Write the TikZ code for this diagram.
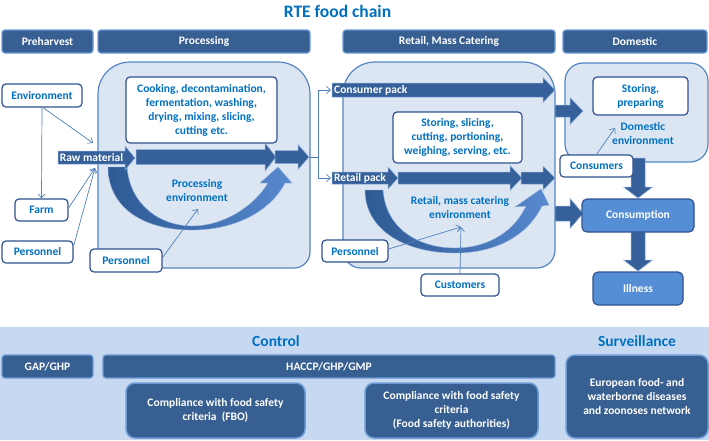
\documentclass[tikz,border=0pt]{standalone}
\usepackage{fontspec}
\setmainfont{Carlito}
\usetikzlibrary{arrows.meta}
\definecolor{hdr}{HTML}{375F92}
\definecolor{hdredge}{HTML}{6C9BD6}
\definecolor{cont}{HTML}{DCE6F2}
\definecolor{contedge}{HTML}{5585C5}
\definecolor{txtblue}{HTML}{0070C0}
\definecolor{boxedge}{HTML}{2F528F}
\definecolor{thinline}{HTML}{4F81BD}
\definecolor{blk}{HTML}{35609A}
\definecolor{blkedge}{HTML}{8CAEDB}
\definecolor{consfill}{HTML}{558ED5}
\definecolor{band}{HTML}{C6D9F1}
\definecolor{crescL}{HTML}{2E5A94}
\definecolor{crescM}{HTML}{3764A0}
\definecolor{crescR}{HTML}{5889CF}
\newcommand\blkH[6]{\path[blockfill] (#1,#4-#5) -- (#2,#4-#5) -- (#2,#4-#6) -- (#3,#4) -- (#2,#4+#6) -- (#2,#4+#5) -- (#1,#4+#5) -- cycle;}
\newcommand\blkV[6]{\path[blockfill] (#4-#5,#1) -- (#4-#5,#2) -- (#4-#6,#2) -- (#4,#3) -- (#4+#6,#2) -- (#4+#5,#2) -- (#4+#5,#1) -- cycle;}
\begin{document}
\begin{tikzpicture}[x=1pt,y=-1pt,
  font=\bfseries\fontsize{11.5}{14}\selectfont,
  hdrbar/.style={draw=hdredge, line width=1.2pt, fill=hdr, rounded corners=3pt, text=white, inner sep=0pt, minimum height=23pt},
  container/.style={draw=contedge, line width=1.2pt, fill=cont},
  wbox/.style={draw=boxedge, line width=1.2pt, fill=white, rounded corners=4pt, text=txtblue, align=center, inner sep=0pt},
  endbox/.style={draw=boxedge, line width=1.2pt, fill=consfill, rounded corners=5pt, text=white, inner sep=0pt},
  ctrlbox/.style={draw=hdredge, line width=1.5pt, fill=hdr, rounded corners=9pt, text=white, align=center, inner sep=0pt},
  envtext/.style={text=txtblue, align=center, inner sep=0pt},
  thinarrow/.style={draw=thinline, line width=0.7pt, -{Straight Barb[length=4pt,width=7pt]}},
  thinplain/.style={draw=thinline, line width=0.7pt},
  blockfill/.style={fill=blk, draw=blkedge, line width=0.5pt},
  packlabel/.style={text=white, inner sep=0pt},
  crescent/.style={left color=crescL, middle color=crescM, right color=crescR, draw=blkedge, line width=0.4pt}
]
\useasboundingbox (0,0) rectangle (709,440);
\fill[white] (0,0) rectangle (709,440);

% title
\node[text=txtblue, font=\bfseries\fontsize{17.5}{20}\selectfont] (title) at (337.5,11) {RTE food chain};

% header bars
\node[hdrbar, minimum width=91pt] (hpre) at (47.5,41.5) {Preharvest};
\node[hdrbar, minimum width=212pt] (hproc) at (204,41.5) {Processing};
\node[hdrbar, minimum width=212pt] (hret) at (449,41.5) {Retail, Mass Catering};
\node[hdrbar, minimum width=144pt] (hdom) at (635,41.5) {Domestic};

% containers
\path[container] (98,150) [rounded corners=32pt] -- (98,62) -- (310,62) -- (310,150) [rounded corners=16pt] -- (310,268) -- (98,268) -- cycle;
\path[container] (343,150) [rounded corners=32pt] -- (343,62) -- (555,62) -- (555,150) [rounded corners=18pt] -- (555,268) -- (343,268) -- cycle;
\path[container, rounded corners=18pt] (565,63) rectangle (708,162);

% crescents
\path[crescent] (108,167) -- (127,167)
  .. controls (130,205) and (160,226) .. (192,226)
  .. controls (225,226) and (255,205) .. (268,183)
  -- (260,183) -- (278,167) -- (292,183) -- (285,183)
  .. controls (268,215) and (230,230) .. (192,230)
  .. controls (140,230) and (108,205) .. (108,167) -- cycle;
\path[crescent] (365,190) -- (383,190)
  .. controls (386,230) and (420,248) .. (455,248)
  .. controls (490,248) and (515,230) .. (526,206)
  -- (515,207) -- (541,189) -- (549,205) -- (542,206)
  .. controls (525,240) and (490,253) .. (455,253)
  .. controls (405,253) and (365,230) .. (365,190) -- cycle;

% block arrows
\blkH{136}{265}{276}{157}{7.5}{14}
\blkH{275}{298}{309}{157}{6.5}{12.5}
\blkH{332}{543}{555}{90}{7}{12.5}
\blkH{398}{510}{522}{178}{6}{12.5}
\blkH{521}{543}{555}{178}{6}{12}
\blkH{555}{570}{583}{111}{6}{13.5}
\blkH{555}{570}{583}{213.5}{7.5}{15}
\blkV{158}{187}{198}{638}{7}{14.5}
\blkV{232}{260}{271}{638}{7}{14.5}
\path[blockfill] (58,151) -- (125,151) -- (125,146) -- (135,158) -- (125,170) -- (125,164) -- (58,164) -- cycle;
\path[blockfill] (332,172) -- (388,172) -- (388,167) -- (398,178) -- (388,189) -- (388,184) -- (332,184) -- cycle;
\node[packlabel] (rawm) at (91.5,157.5) {Raw material};
\node[packlabel] (rpack) at (360,178) {Retail pack};
\node[packlabel, anchor=west] (cpack) at (334,90) {Consumer pack};

% white boxes
\node[wbox, minimum width=80pt, minimum height=23pt] (env) at (42,95.5) {Environment};
\node[wbox, minimum width=53pt, minimum height=22pt] (farm) at (41.5,210) {Farm};
\node[wbox, minimum width=71pt, minimum height=22pt] (pers1) at (37.5,252) {Personnel};
\node[wbox, minimum width=72pt, minimum height=23pt] (pers2) at (126,260.5) {Personnel};
\node[wbox, minimum width=151pt, minimum height=66pt] (cook) at (201.5,110) {Cooking, decontamination,\\fermentation, washing,\\drying, mixing, slicing,\\cutting etc.};
\node[wbox, minimum width=129pt, minimum height=51pt] (rstore) at (457.5,137.5) {Storing, slicing,\\cutting, portioning,\\weighing, serving, etc.};
\node[wbox, minimum width=66pt, minimum height=22pt] (pers3) at (355,251) {Personnel};
\node[wbox, minimum width=78pt, minimum height=22pt] (cust) at (460,285) {Customers};
\node[wbox, minimum width=95pt, minimum height=38pt] (dstore) at (640.5,96) {Storing,\\preparing};
\node[wbox, minimum width=73pt, minimum height=22pt] (cons) at (596.5,166) {Consumers};
\node[endbox, minimum width=112pt, minimum height=33pt] (consum) at (638,215.5) {Consumption};
\node[endbox, minimum width=90pt, minimum height=33pt] (ill) at (638,288.5) {Illness};

% environment texts
\node[envtext] (penv) at (197,191) {Processing\\environment};
\node[envtext] (renv) at (460,208) {Retail, mass catering\\environment};
\node[envtext] (denv) at (643,133) {Domestic\\environment};

% thin connectors
\coordinate (rawtop) at (93,143);
\coordinate (rawbot) at (95,168);
\coordinate (penvtip) at (198,209);
\coordinate (renvtip) at (461,227);
\coordinate (denvtip) at (615,128);
\coordinate (ptip) at (309,157);
\coordinate (cpk) at (331,90);
\coordinate (rpk) at (331,178);
\draw[thinarrow] (env.south) -- (farm.north);
\draw[thinarrow] (env.south) ++(1,0) -- (rawtop);
\draw[thinarrow] ([yshift=2pt]farm.east) -- (rawbot);
\draw[thinarrow] ([yshift=6pt]pers1.east) -- (rawbot);
\draw[thinarrow] ([yshift=3pt]pers2.east) -- (penvtip);
\draw[thinarrow] ([yshift=2pt]pers3.east) -- (renvtip);
\draw[thinarrow] (cust.north) -- (renvtip);
\draw[thinarrow] (cons.north) -- (denvtip);
\draw[thinplain] (ptip) -- ++(9,0) coordinate (junc);
\draw[thinarrow] (junc) |- (cpk);
\draw[thinarrow] (junc) |- (rpk);

% control band
\node[fill=band, minimum width=709pt, minimum height=113pt, inner sep=0pt] (ctrlband) at (354.5,383.5) {};
\node[text=txtblue, font=\bfseries\fontsize{15.5}{18}\selectfont] (ctrl) at (276,341) {Control};
\node[text=txtblue, font=\bfseries\fontsize{15.5}{18}\selectfont] (surv) at (637,341) {Surveillance};
\node[hdrbar, minimum width=91pt] (gap) at (47.5,366.5) {GAP/GHP};
\node[hdrbar, minimum width=452pt] (haccp) at (329,366.5) {HACCP/GHP/GMP};
\node[ctrlbox, minimum width=179pt, minimum height=55pt] (fbo) at (215.5,410.5) {Compliance with food safety\\criteria\ \ (FBO)};
\node[ctrlbox, minimum width=173pt, minimum height=55pt] (auth) at (451.5,410.5) {Compliance with food safety\\criteria\\(Food safety authorities)};
\node[ctrlbox, minimum width=142pt, minimum height=83pt] (euro) at (637,396.5) {European food- and\\waterborne diseases\\and zoonoses network};
\end{tikzpicture}
\end{document}
